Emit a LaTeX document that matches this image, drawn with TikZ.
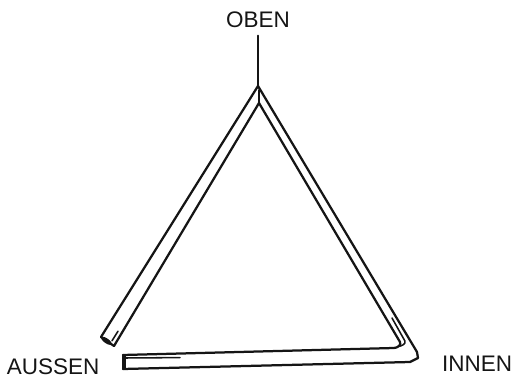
\documentclass[tikz,border=0pt]{standalone}
\usepackage{fontspec}
\setmainfont{Liberation Sans}
\usepackage{tikz}
\usetikzlibrary{calc}
\definecolor{sketchink}{HTML}{151515}
\tikzset{
  pen/.style={draw=sketchink, line width=1.6pt, line cap=round, line join=round},
  thinpen/.style={draw=sketchink, line width=1.1pt, line cap=round},
  corner/.style={font=\fontsize{16}{18}\selectfont, text=sketchink}
}

\begin{document}
\begin{tikzpicture}
        \useasboundingbox (0,0) rectangle (12.9,9.5);

        \node[corner] (oben) at (6.45, 9.0) {OBEN};
        \node[corner] (aussen) at (1.33, 0.33) {AUSSEN};
        \node[corner] (innen) at (11.93, 0.40) {INNEN};

        % outer and inner points of the tube
        \coordinate (apex) at (6.45, 7.35);
        \coordinate (apexin) at (6.475, 6.925);
        \coordinate (lout) at (2.525, 1.075);
        \coordinate (lin) at (2.85, 0.85);
        \coordinate (rout) at (10.425, 0.70);
        \coordinate (rin) at (10.0, 0.95);
        \coordinate (btop) at (3.075, 0.625);
        \coordinate (bbot) at (3.075, 0.275);

        \draw[pen, shorten <=2pt] (oben.south) -- (apex);

        % left side, open end
        \draw[pen] (apex) -- (lout);
        \draw[pen] (apexin) -- (lin);
        \draw[pen] (lout) -- (lin);
        \fill[sketchink, rotate around={-35:(2.66,0.98)}] (2.66,0.98) ellipse (0.16 and 0.06);
        \draw[thinpen] (2.80, 0.98) -- (2.95, 1.22);

        % right side and bottom bar
        \draw[pen] (apex) -- (rout) -- (10.45, 0.55) -- (10.25, 0.45) -- (bbot);
        \draw[pen] (apexin) -- (rin) to[out=-60,in=0] (9.85, 0.80) -- (btop);
        \draw[thinpen] (9.80, 1.55) -- (10.12, 0.98) to[out=-60,in=0] (9.95, 0.84);
        \draw[pen] (btop) -- (bbot);
        \draw[thinpen] (3.13, 0.60) -- (3.13, 0.30);
        \draw[thinpen] (3.13, 0.55) -- (4.50, 0.56);

        \draw[thinpen] (6.475, 7.25) -- (apexin);
      \end{tikzpicture}
\end{document}
